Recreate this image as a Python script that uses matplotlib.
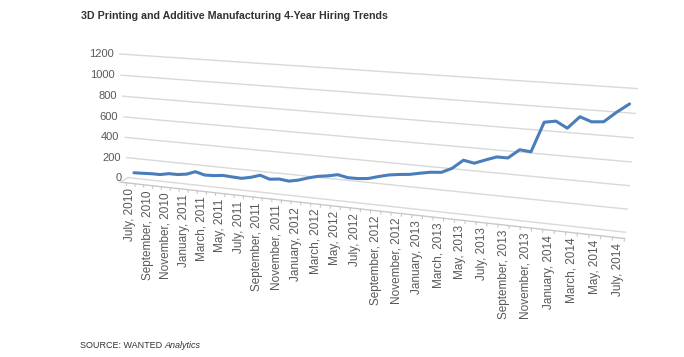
import matplotlib
matplotlib.use("Agg")
import matplotlib.pyplot as plt
import matplotlib.transforms as mtransforms
import numpy as np
from mpl_toolkits.mplot3d import proj3d

# Monthly hiring index, July 2010 .. July 2014
hires = [82, 86, 91, 92, 110, 111, 124, 157, 134, 138,
         149, 144, 140, 159, 188, 160, 171, 161, 180, 210,
         234, 248, 268, 250, 251, 261, 288, 312, 326, 336,
         356, 374, 382, 428, 507, 490, 527, 562, 562, 641,
         632, 889, 906, 855, 957, 923, 931, 1016, 1090]

# labels on every second month
month_labels = ["July, 2010", "September, 2010", "November, 2010",
                "January, 2011", "March, 2011", "May, 2011", "July, 2011",
                "September, 2011", "November, 2011", "January, 2012",
                "March, 2012", "May, 2012", "July, 2012", "September, 2012",
                "November, 2012", "January, 2013", "March, 2013", "May, 2013",
                "July, 2013", "September, 2013", "November, 2013",
                "January, 2014", "March, 2014", "May, 2014", "July, 2014"]

y_ticks = [0, 200, 400, 600, 800, 1000, 1200]

plt.rcParams['font.family'] = ['Liberation Sans', 'DejaVu Sans']

fig = plt.figure(figsize=(6.84, 3.57), dpi=100)
ax = fig.add_axes([0.011, 0.095, 1.0, 1.0], projection='3d',
                  proj_type='persp', focal_length=0.5)
ax.set_axis_off()

n = len(hires)
x = np.arange(n)
x0, x1 = -1.2, n - 0.5
ax.set_xlim(x0, x1)
ax.set_ylim(0, 1)
ax.set_zlim(0, 1200)
ax.set_box_aspect((5.75, 0.18, 1.5), zoom=1.5)
ax.view_init(elev=16, azim=-72)

grid_col = '#d9d9d9'
lines = []
# back wall gridlines
for v in y_ticks:
    lines += ax.plot([x0, x1], [1, 1], [v, v], color=grid_col, lw=1)
# floor edges
lines += ax.plot([x0, x1], [0, 0], [0, 0], color='#c8c8c8', lw=1)
lines += ax.plot([x0, x0], [0, 1], [0, 0], color=grid_col, lw=1)
# tick marks
for i in range(n + 1):
    lines += ax.plot([i - 0.5, i - 0.5], [0, 0], [0, -25], color='#c8c8c8',
                     lw=0.8)

# the series, half way into the depth
lines += ax.plot(x, np.full(n, 0.5), hires, color='#4a7ebb', lw=2.2,
                 solid_capstyle='round')
for ln in lines:
    ln.set_clip_on(False)

M = ax.get_proj()
# value labels
off = mtransforms.offset_copy(ax.transData, fig=fig, x=-6, y=0, units='dots')
for v in y_ticks:
    px, py, _ = proj3d.proj_transform(x0, 1, v, M)
    ax.text2D(px, py, str(v), transform=off, ha='right', va='center',
              fontsize=8, color='#595959')

# month labels
off2 = mtransforms.offset_copy(ax.transData, fig=fig, x=0, y=-5, units='dots')
for k, lab in enumerate(month_labels):
    px, py, _ = proj3d.proj_transform(2 * k, 0, 0, M)
    ax.text2D(px, py, lab, transform=off2, ha='center', va='top',
              rotation=90, fontsize=8.5, color='#595959')

fig.text(81 / 684, 1 - 16 / 357,
         "3D Printing and Additive Manufacturing 4-Year Hiring Trends",
         fontsize=7.7, fontweight='bold', color='#333333', va='center')
t = fig.text(80 / 684, 1 - 346 / 357, "SOURCE: WANTED ", fontsize=6.5,
             color='#333333', va='center')
fig.canvas.draw()
bb = t.get_window_extent()
fig.text(bb.x1 / fig.bbox.width, 1 - 346 / 357, "Analytics", fontsize=6.5,
         style='italic', color='#333333', va='center')

fig.savefig("out.png", dpi=100)
